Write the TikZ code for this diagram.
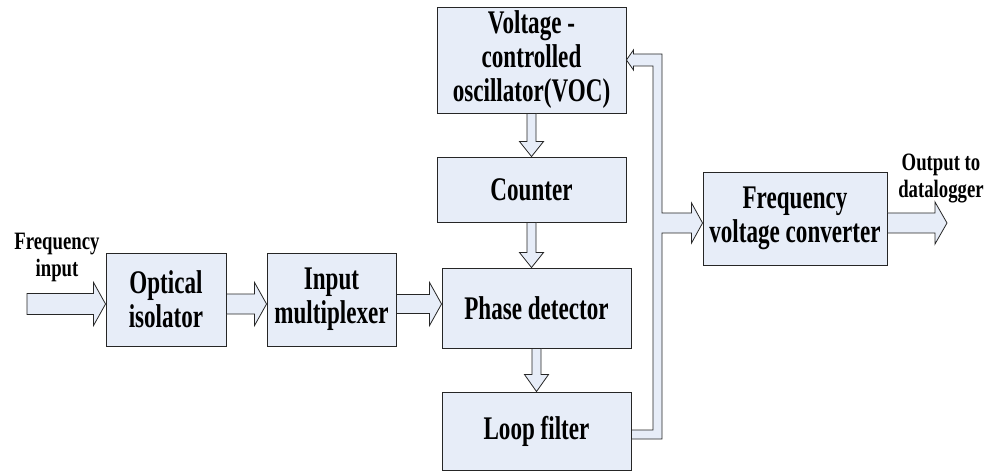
\documentclass[tikz,border=0pt]{standalone}
\usepackage{fontspec}
\setmainfont{Liberation Serif}
\newfontfamily\boxfont{Liberation Serif}[FakeStretch=0.70]
\newfontfamily\labfont{Liberation Serif}[FakeStretch=0.75]
\usetikzlibrary{calc}
\definecolor{boxblue}{RGB}{231,237,248}
\newcommand\blockH[5]{%
  \draw[arrowshape] let \p1=#1, \p2=#2 in
    (\x1,\y1+#3pt) -- (\x2-#5pt,\y1+#3pt) -- (\x2-#5pt,\y1+#4pt) -- (\x2,\y1)
    -- (\x2-#5pt,\y1-#4pt) -- (\x2-#5pt,\y1-#3pt) -- (\x1,\y1-#3pt) -- cycle;}
\newcommand\blockV[5]{%
  \draw[arrowshape] let \p1=#1, \p2=#2 in
    (\x1-#3pt,\y1) -- (\x1-#3pt,\y2+#5pt) -- (\x1-#4pt,\y2+#5pt) -- (\x1,\y2)
    -- (\x1+#4pt,\y2+#5pt) -- (\x1+#3pt,\y2+#5pt) -- (\x1+#3pt,\y1) -- cycle;}
\begin{document}
\begin{tikzpicture}[x=1pt,y=-1pt,
  blockbox/.style={draw=black!85,line width=0.9pt,fill=boxblue,inner sep=0pt,
    align=center,font=\boxfont\fontsize{33}{34}\selectfont\bfseries},
  arrowshape/.style={draw=black!85,line width=0.8pt,fill=boxblue,line join=miter},
  extlabel/.style={align=center,inner sep=0pt,font=\labfont\fontsize{25}{27}\selectfont\bfseries}]
\useasboundingbox (0,0) rectangle (991,473);
% boxes
\node[blockbox,minimum width=120pt,minimum height=93pt] (iso) at (166,299.5) {Optical\\isolator};
\node[blockbox,minimum width=129pt,minimum height=93pt] (mux) at (331.5,299.5) {Input\\multiplexer};
\node[blockbox,minimum width=189pt,minimum height=80pt] (phase) at (536.5,308) {Phase detector};
\node[blockbox,minimum width=189pt,minimum height=106pt] (voc) at (531.5,60) {Voltage -\\controlled\\oscillator(VOC)};
\node[blockbox,minimum width=189pt,minimum height=65pt] (counter) at (531.5,189.5) {Counter};
\node[blockbox,minimum width=189pt,minimum height=78pt] (loop) at (536.5,431) {Loop filter};
\node[blockbox,minimum width=184pt,minimum height=93pt] (fvc) at (795,218.5) {Frequency\\voltage converter};
% external labels
\node[extlabel] (inlabel) at (57,257) {Frequency\\input};
\node[extlabel] (outlabel) at (941,178) {Output to\\datalogger};
% helper coordinates
\coordinate (inStart) at (27,304);
\coordinate (outEnd) at (947,223);
\coordinate (pL) at (653,0);
\coordinate (pR) at (662,0);
% horizontal arrows
\blockH{(inStart)}{(iso.west)}{10.5}{21.5}{12}
\blockH{(iso.east |- inStart)}{(mux.west)}{10}{21.5}{12}
\blockH{(mux.east |- inStart)}{(phase.west)}{9.5}{21.5}{12}
\blockH{($(fvc.east)+(0,4.5)$)}{(outEnd)}{10}{21}{12}
% vertical arrows
\blockV{(voc.south)}{(counter.north)}{4.5}{12}{15}
\blockV{(counter.south)}{(phase.north)}{4.5}{12}{15}
\blockV{(phase.south)}{(loop.north)}{4.5}{12}{17}
% feedback pipe
\draw[arrowshape]
  ($(loop.east)+(0,-1)$) -- ($(pL |- loop.east)+(0,-1)$)
  -- ($(pL |- voc.east)+(0,6)$) -- ($(voc.east)+(7,6)$) -- ($(voc.east)+(7,10)$)
  -- (voc.east) -- ($(voc.east)+(7,-10)$) -- ($(voc.east)+(7,-6)$)
  -- ($(pR |- voc.east)+(0,-6)$) -- ($(pR |- fvc.west)+(0,-5.5)$)
  -- ($(fvc.west)+(-11,-5.5)$) -- ($(fvc.west)+(-11,-15.5)$) -- ($(fvc.west)+(0,4.5)$)
  -- ($(fvc.west)+(-11,24.5)$) -- ($(fvc.west)+(-11,14.5)$)
  -- ($(pR |- fvc.west)+(0,14.5)$) -- ($(pR |- loop.east)+(0,8)$)
  -- ($(loop.east)+(0,8)$) -- cycle;
\end{tikzpicture}
\end{document}
